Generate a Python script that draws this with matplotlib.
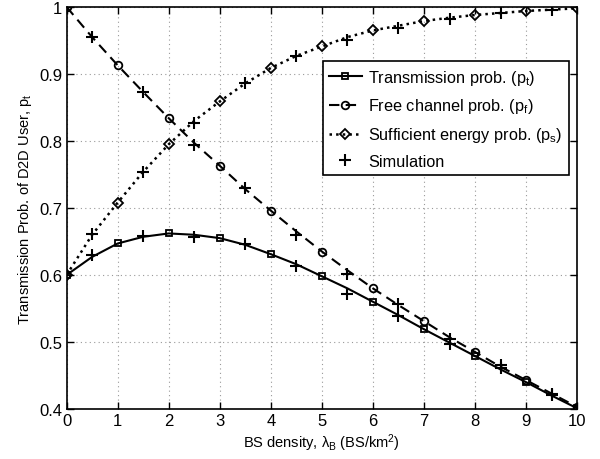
import matplotlib
matplotlib.use("Agg")
import matplotlib.pyplot as plt
import numpy as np

plt.rcParams['font.family'] = ['Liberation Sans', 'DejaVu Sans']
plt.rcParams['mathtext.fontset'] = 'custom'
plt.rcParams['mathtext.rm'] = 'Liberation Sans'
plt.rcParams['mathtext.it'] = 'Liberation Sans:italic'

# Theory curves (read at 0.5 steps; markers on integer densities)
lam_theory = [0, 0.5, 1, 1.5, 2, 2.5, 3, 3.5, 4, 4.5, 5, 5.5, 6, 6.5, 7, 7.5, 8, 8.5, 9, 9.5, 10]
p_t = [0.600, 0.627, 0.647, 0.657, 0.662, 0.660, 0.655, 0.645, 0.631, 0.616, 0.598,
       0.580, 0.560, 0.540, 0.519, 0.499, 0.479, 0.459, 0.440, 0.420, 0.401]
p_f = [1.000, 0.955, 0.913, 0.873, 0.834, 0.797, 0.763, 0.728, 0.696, 0.665, 0.635,
       0.607, 0.580, 0.555, 0.531, 0.507, 0.485, 0.463, 0.443, 0.423, 0.403]
p_s = [0.600, 0.660, 0.708, 0.754, 0.795, 0.830, 0.859, 0.886, 0.909, 0.927, 0.941,
       0.955, 0.965, 0.972, 0.979, 0.984, 0.988, 0.991, 0.994, 0.996, 0.998]

# Simulation results
lam_sim = [0.5, 1.5, 2.5, 3.5, 4.5, 5.5, 6.5, 7.5, 8.5, 9.5]
sim_t = [0.630, 0.658, 0.656, 0.646, 0.613, 0.571, 0.539, 0.497, 0.461, 0.421]
sim_f = [0.955, 0.873, 0.794, 0.730, 0.660, 0.601, 0.557, 0.505, 0.465, 0.423]
sim_s = [0.661, 0.753, 0.827, 0.886, 0.927, 0.951, 0.968, 0.982, 0.991, 0.9955]

labels = ['Transmission prob. (p$_\\mathrm{t}$)', 'Free channel prob. (p$_\\mathrm{f}$)',
          'Sufficient energy prob. (p$_\\mathrm{s}$)', 'Simulation']

fig = plt.figure(figsize=(6.0, 4.6), dpi=100)
ax = fig.add_axes([0.111, 0.1087, 0.851, 0.874])

ax.plot(lam_theory, p_t, '-', color='black', lw=1.5, marker='s', markersize=5,
        markerfacecolor='none', markeredgewidth=1.3, markevery=2, label=labels[0])
ax.plot(lam_theory, p_f, '--', color='black', lw=1.5, marker='o', markersize=5.5,
        markerfacecolor='none', markeredgewidth=1.3, markevery=2, label=labels[1], dashes=(5, 3))
ax.plot(lam_theory, p_s, ':', color='black', lw=1.8, marker='D', markersize=5,
        markerfacecolor='none', markeredgewidth=1.3, markevery=2, label=labels[2])
ax.plot(lam_sim, sim_t, '+', color='black', markersize=9, markeredgewidth=1.5, label=labels[3])
ax.plot(lam_sim, sim_f, '+', color='black', markersize=9, markeredgewidth=1.5)
ax.plot(lam_sim, sim_s, '+', color='black', markersize=9, markeredgewidth=1.5)

ax.set_xlim(0, 10)
ax.set_ylim(0.4, 1.0)
ax.set_xticks(range(0, 11))
ax.set_yticks([0.4, 0.5, 0.6, 0.7, 0.8, 0.9, 1.0])
ax.set_yticklabels(['0.4', '0.5', '0.6', '0.7', '0.8', '0.9', '1'])
ax.grid(True, linestyle=(0, (1, 3)), color='#999999', linewidth=0.8)
ax.tick_params(direction='in', top=True, right=True, labelsize=12, length=5, width=1, pad=3)
for s in ax.spines.values():
    s.set_linewidth(1.2)

ax.set_xlabel('BS density, λ$_\\mathrm{B}$ (BS/km$^\\mathrm{2}$)', fontsize=10.5, labelpad=2)
ax.set_ylabel('Transmission Prob. of D2D User, p$_\\mathrm{t}$', fontsize=10.5, labelpad=4)

leg = ax.legend(loc='upper right', bbox_to_anchor=(0.984, 0.865), borderaxespad=0,
                fontsize=11.7, frameon=True, fancybox=False, edgecolor='black', framealpha=1,
                handlelength=2.0, borderpad=0.4, labelspacing=0.6, handletextpad=0.4)
leg.get_frame().set_linewidth(1.2)

fig.savefig('out.png', dpi=100)
